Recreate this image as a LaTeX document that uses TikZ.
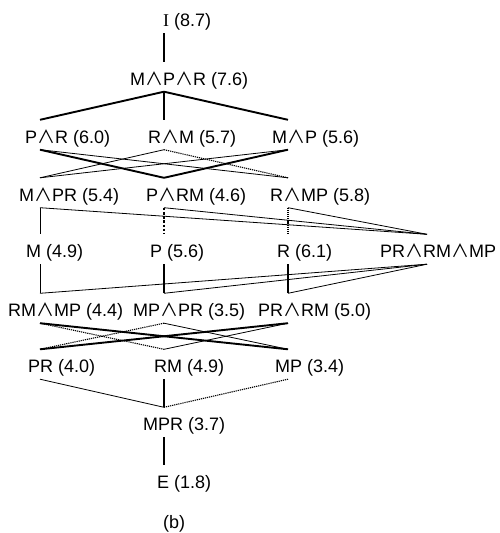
\documentclass[tikz,border=0pt]{standalone}
\usepackage{fontspec}
\setmainfont{Liberation Sans}
\newfontfamily\cjk{Noto Sans CJK JP}
\newfontfamily\serifI{Liberation Serif}
\newcommand{\mwedge}{{\cjk ∧}}
\begin{document}
\begin{tikzpicture}[x=1pt,y=-1pt,
  lab/.style={anchor=base west, inner xsep=0pt, inner ysep=2pt,
    text height=21pt, text depth=4.5pt, font=\fontsize{18}{20}\selectfont},
  thickline/.style={line width=1.9pt},
  thinline/.style={line width=0.8pt},
  dotline/.style={line width=1.1pt, dash pattern=on 1.2pt off 0.9pt},
  thickdot/.style={line width=2.3pt, dash pattern=on 2.6pt off 1.6pt}]
\useasboundingbox (0,0) rectangle (500,533);

% column positions
\coordinate (cL) at (40,0);
\coordinate (cC) at (164,0);
\coordinate (cR) at (288,0);
\coordinate (cX) at (427,0);

% labels
\node[lab] (nI)    at (163,26.5) {{\serifI I} (8.7)};
\node[lab] (nMPR)  at (130,85)   {M\mwedge P\mwedge R (7.6)};

\node[lab] (nPaR)  at (25,143)   {P\mwedge R (6.0)};
\node[lab] (nRaM)  at (148,143)  {R\mwedge M (5.7)};
\node[lab] (nMaP)  at (272,143)  {M\mwedge P (5.6)};

\node[lab] (nMaPR) at (19,201)   {M\mwedge PR (5.4)};
\node[lab] (nPaRM) at (146,201)  {P\mwedge RM (4.6)};
\node[lab] (nRaMP) at (270,201)  {R\mwedge MP (5.8)};

\node[lab] (nM)    at (26,257.5)  {M (4.9)};
\node[lab] (nP)    at (150,257.5) {P (5.6)};
\node[lab] (nR)    at (277,257.5) {R (6.1)};
\node[lab] (nX)    at (380,257.5) {PR\mwedge RM\mwedge MP};

\node[lab] (nRMaMP) at (8,316.5)   {RM\mwedge MP (4.4)};
\node[lab] (nMPaPR) at (133,316.5) {MP\mwedge PR (3.5)};
\node[lab] (nPRaRM) at (258,316.5) {PR\mwedge RM (5.0)};

\node[lab] (nPR)   at (28,372.5)  {PR (4.0)};
\node[lab] (nRM)   at (154,372.5) {RM (4.9)};
\node[lab] (nMP)   at (275,372.5) {MP (3.4)};

\node[lab] (nMPRb) at (143,430.5) {MPR (3.7)};
\node[lab] (nE)    at (157,488)   {E (1.8)};

\node[lab, text height=14pt, text depth=4pt] (nCap) at (163,528) {(b)};

% top chain
\draw[thickline] (nI.south -| cC) -- (nMPR.north -| cC);
\draw[thickline] (nMPR.south -| cC) -- (nPaR.north -| cL);
\draw[thickline] (nMPR.south -| cC) -- (nRaM.north -| cC);
\draw[thickline] (nMPR.south -| cC) -- (nMaP.north -| cR);

% second to third row
\draw[thickline] (nPaR.south -| cL) -- (nPaRM.north -| cC);
\draw[thinline]  (nPaR.south -| cL) -- (nRaMP.north -| cR);
\draw[thinline]  (nRaM.south -| cC) -- (nMaPR.north -| cL);
\draw[dotline]   (nRaM.south -| cC) -- (nRaMP.north -| cR);
\draw[thinline]  (nMaP.south -| cR) -- (nMaPR.north -| cL);
\draw[thickline] (nMaP.south -| cR) -- (nPaRM.north -| cC);

% third to fourth row
\draw[thinline]  (nMaPR.south -| cL) -- (nM.north -| cL);
\draw[thinline]  (nMaPR.south -| cL) -- (nX.north -| cX);
\draw[thickdot]  (nPaRM.south -| cC) -- (nP.north -| cC);
\draw[thinline]  (nPaRM.south -| cC) -- (nX.north -| cX);
\draw[dotline]   (nRaMP.south -| cR) -- (nR.north -| cR);
\draw[thinline]  (nRaMP.south -| cR) -- (nX.north -| cX);

% fourth to fifth row
\draw[thinline]  (nM.south -| cL) -- (nRMaMP.north -| cL);
\draw[thinline]  (nX.south -| cX) -- (nRMaMP.north -| cL);
\draw[thickline] (nP.south -| cC) -- (nMPaPR.north -| cC);
\draw[thinline]  (nX.south -| cX) -- (nMPaPR.north -| cC);
\draw[thickline] (nR.south -| cR) -- (nPRaRM.north -| cR);
\draw[thinline]  (nX.south -| cX) -- (nPRaRM.north -| cR);

% fifth to sixth row
\draw[thickline] (nRMaMP.south -| cL) -- (nMP.north -| cR);
\draw[dotline]   (nRMaMP.south -| cL) -- (nRM.north -| cC);
\draw[dotline]   (nMPaPR.south -| cC) -- (nPR.north -| cL);
\draw[thinline]  (nMPaPR.south -| cC) -- (nMP.north -| cR);
\draw[thickline] (nPRaRM.south -| cR) -- (nPR.north -| cL);
\draw[thinline]  (nPRaRM.south -| cR) -- (nRM.north -| cC);

% bottom chain
\draw[thinline]  (nPR.south -| cL) -- (nMPRb.north -| cC);
\draw[thickline] (nRM.south -| cC) -- (nMPRb.north -| cC);
\draw[dotline]   (nMP.south -| cR) -- (nMPRb.north -| cC);
\draw[thickline] (nMPRb.south -| cC) -- (nE.north -| cC);
\end{tikzpicture}
\end{document}
